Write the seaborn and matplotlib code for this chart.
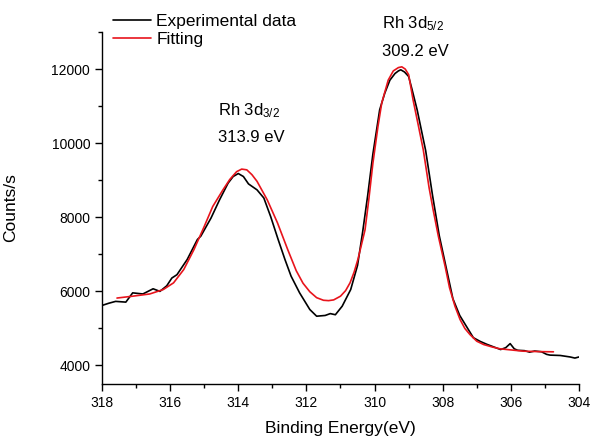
import matplotlib
matplotlib.use("Agg")
import matplotlib.pyplot as plt
import seaborn as sns
from matplotlib.ticker import MultipleLocator

# experimental XPS spectrum (binding energy, counts/s)
exp_energy = [318.0, 317.8, 317.6, 317.3, 317.1, 316.8, 316.5, 316.3, 316.1, 315.95,
              315.8, 315.5, 315.2, 315.1, 314.8, 314.55, 314.3, 314.15, 314.0, 313.85,
              313.7, 313.45, 313.25, 313.05, 312.83, 312.63, 312.45, 312.2, 311.9, 311.7,
              311.45, 311.3, 311.15, 310.95, 310.7, 310.5, 310.35, 310.2, 310.05, 309.85,
              309.7, 309.55, 309.4, 309.3, 309.23, 309.12, 309.0, 308.9, 308.75, 308.5,
              308.3, 308.1, 307.9, 307.7, 307.5, 307.3, 307.1, 306.9, 306.7, 306.5,
              306.3, 306.15, 306.02, 305.9, 305.8, 305.6, 305.45, 305.3, 305.1, 304.95,
              304.85, 304.55, 304.26, 304.12, 304.0]
exp_counts = [5620, 5680, 5730, 5710, 5960, 5930, 6070, 6000, 6150, 6360,
              6450, 6860, 7400, 7490, 7980, 8470, 8920, 9100, 9180, 9100,
              8900, 8740, 8520, 8020, 7400, 6860, 6410, 5960, 5510, 5330,
              5350, 5400, 5370, 5600, 6050, 6700, 7600, 8600, 9700, 10900,
              11350, 11700, 11880, 11950, 11980, 11920, 11800, 11450, 10900, 9800,
              8600, 7500, 6650, 5800, 5350, 5050, 4750, 4650, 4570, 4500,
              4430, 4480, 4590, 4450, 4410, 4400, 4360, 4390, 4370, 4300,
              4280, 4270, 4230, 4200, 4230]

# fitted envelope
fit_energy = [317.56, 317.1, 316.6, 316.2, 315.9, 315.6, 315.3, 315.0, 314.75, 314.45,
              314.25, 314.05, 313.9, 313.75, 313.6, 313.45, 313.15, 312.85, 312.55, 312.3,
              312.1, 311.9, 311.7, 311.5, 311.35, 311.2, 311.0, 310.85, 310.72, 310.6,
              310.49, 310.4, 310.28, 310.17, 310.05, 309.9, 309.79, 309.6, 309.45, 309.3,
              309.2, 309.1, 309.0, 308.87, 308.72, 308.57, 308.4, 308.28, 308.13, 307.93,
              307.8, 307.64, 307.49, 307.35, 307.2, 307.0, 306.8, 306.55, 306.32, 306.0,
              305.63, 305.2, 304.75]
fit_counts = [5820, 5870, 5930, 6050, 6230, 6590, 7130, 7750, 8290, 8740,
              9020, 9230, 9300, 9280, 9150, 8970, 8470, 7850, 7130, 6560,
              6220, 5990, 5830, 5760, 5750, 5770, 5870, 6020, 6230, 6520,
              6860, 7200, 7660, 8470, 9450, 10450, 11080, 11700, 11950, 12040,
              12060, 12000, 11850, 11170, 10500, 9820, 8800, 8200, 7500, 6680,
              6100, 5600, 5240, 5000, 4835, 4655, 4566, 4500, 4450, 4420,
              4386, 4375, 4369]

sns.set_style("ticks")
plt.rcParams["font.family"] = ["Liberation Sans", "DejaVu Sans"]
plt.rcParams["mathtext.fontset"] = "custom"
plt.rcParams["mathtext.rm"] = "Liberation Sans"
plt.rcParams["mathtext.it"] = "Liberation Sans:italic"
plt.rcParams["text.color"] = "black"
plt.rcParams["axes.labelcolor"] = "black"
plt.rcParams["xtick.color"] = "black"
plt.rcParams["ytick.color"] = "black"

fig = plt.figure(figsize=(5.92, 4.42), dpi=100)
ax = fig.add_axes([0.1723, 0.1312, 0.8057, 0.7964])

sns.lineplot(x=exp_energy, y=exp_counts, color="black", linewidth=1.2,
             label="Experimental data", ax=ax)
sns.lineplot(x=fit_energy, y=fit_counts, color="#e8141c", linewidth=1.2,
             label="Fitting", ax=ax)

ax.set_xlim(318, 304)
ax.set_ylim(3500, 13000)
ax.xaxis.set_major_locator(MultipleLocator(2))
ax.xaxis.set_minor_locator(MultipleLocator(1))
ax.yaxis.set_major_locator(MultipleLocator(2000))
ax.yaxis.set_minor_locator(MultipleLocator(1000))
ax.tick_params(which="major", length=5, width=1, labelsize=10, colors="black")
ax.tick_params(which="minor", length=3, width=1, colors="black")
sns.despine(ax=ax)
for s in ["left", "bottom"]:
    ax.spines[s].set_linewidth(1.0)
    ax.spines[s].set_color("black")

ax.set_xlabel("Binding Energy(eV)", fontsize=12.5)
ax.set_ylabel("Counts/s", fontsize=12.5)
ax.xaxis.set_label_coords(0.5, -0.105)
ax.yaxis.set_label_coords(-0.176, 0.5)

ax.text(314.6, 10870, r"Rh 3d$_{3/2}$", fontsize=12, va="center", ha="left")
ax.text(314.6, 10160, "313.9 eV", fontsize=12, va="center", ha="left")
ax.text(309.78, 13220, r"Rh 3d$_{5/2}$", fontsize=12, va="center", ha="left", clip_on=False)
ax.text(309.78, 12480, "309.2 eV", fontsize=12, va="center", ha="left", clip_on=False)

handles, labels = ax.get_legend_handles_labels()
ax.legend(handles, labels, loc="upper left", bbox_to_anchor=(113 / 592, 1 - 14 / 442),
          bbox_transform=fig.transFigure, frameon=False, fontsize=12.5,
          handlelength=2.2, handletextpad=0.3, labelspacing=0.15,
          borderpad=0, borderaxespad=0)

fig.savefig("out.png", dpi=100)
